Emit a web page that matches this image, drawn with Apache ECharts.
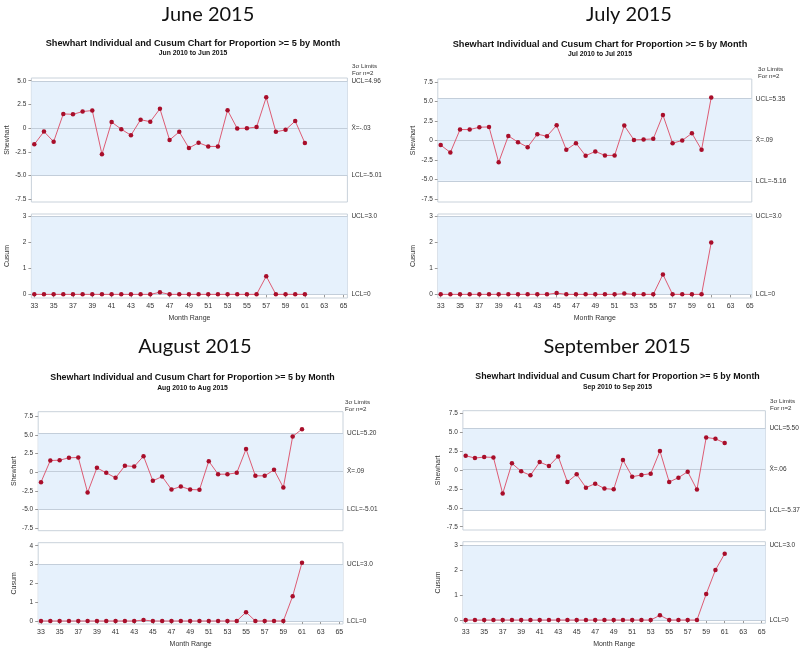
<!DOCTYPE html>
<html><head><meta charset="utf-8">
<script src="https://cdn.jsdelivr.net/npm/echarts@6/dist/echarts.min.js"></script>
<style>html,body{margin:0;padding:0;background:#fff}#c{width:800px;height:649px}</style>
</head><body><div id="c"></div><script>
// ---- data ----
const months = [33,34,35,36,37,38,39,40,41,42,43,44,45,46,47,48,49,50,51,52,53,54,55,56,57,58,59,60,61];
const monthTicks = [33,35,37,39,41,43,45,47,49,51,53,55,57,59,61,63,65];
const shewhartTicks = [-7.5,-5,-2.5,0,2.5,5,7.5];
const cusumTicks3 = [0,1,2,3];
const cusumTicks4 = [0,1,2,3,4];
const panelTitles = ['June 2015','July 2015','August 2015','September 2015'];
const chartTitle = 'Shewhart Individual and Cusum Chart for Proportion >= 5 by Month';
const subtitles = ['Jun 2010 to Jun 2015','Jul 2010 to Jul 2015','Aug 2010 to Aug 2015','Sep 2010 to Sep 2015'];

const junShewhart = [-1.71,-0.36,-1.43,1.50,1.46,1.75,1.86,-2.75,0.64,-0.11,-0.75,0.89,0.68,2.04,-1.25,-0.39,-2.10,-1.54,-1.93,-1.93,1.89,-0.04,0.00,0.11,3.25,-0.39,-0.18,0.75,-1.57];
const julShewhart = [-0.59,-1.53,1.40,1.40,1.70,1.74,-2.80,0.59,-0.21,-0.85,0.81,0.55,1.95,-1.19,-0.34,-1.95,-1.40,-1.91,-1.91,1.91,0.08,0.13,0.21,3.27,-0.34,0.00,0.93,-1.19,5.51];
const augShewhart = [-1.34,1.56,1.60,1.92,1.96,-2.72,0.58,-0.09,-0.76,0.85,0.76,2.14,-1.16,-0.58,-2.32,-1.92,-2.32,-2.36,1.47,-0.27,-0.27,-0.09,3.08,-0.49,-0.49,0.31,-2.05,4.77,5.75];
const sepShewhart = [1.89,1.58,1.71,1.67,-3.12,0.88,-0.18,-0.70,1.05,0.53,1.80,-1.58,-0.57,-2.33,-1.80,-2.46,-2.55,1.32,-0.88,-0.66,-0.48,2.50,-1.58,-1.01,-0.22,-2.59,4.30,4.13,3.56];

const junCusum = [0,0,0,0,0,0,0,0,0,0,0,0,0,0.08,0,0,0,0,0,0,0,0,0,0,0.70,0,0,0,0];
const julCusum = [0,0,0,0,0,0,0,0,0,0,0,0,0.05,0,0,0,0,0,0,0.03,0,0,0,0.77,0,0,0,0,2.00];
const augCusum = [0,0,0,0,0,0,0,0,0,0,0,0.05,0,0,0,0,0,0,0,0,0,0,0.47,0,0,0,0,1.32,3.10];
const sepCusum = [0,0,0,0,0,0,0,0,0,0,0,0,0,0,0,0,0,0,0,0,0,0.19,0,0,0,0,1.04,2.00,2.65];

const shewhartUCL = [4.96,5.35,5.20,5.50];
const shewhartMean = [-0.03,0.09,0.09,0.06];
const shewhartLCL = [-5.01,-5.16,-5.01,-5.37];
const uclLabels = ['UCL=4.96','UCL=5.35','UCL=5.20','UCL=5.50'];
const meanLabels = ['X\u0304=-.03','X\u0304=.09','X\u0304=.09','X\u0304=.06'];
const lclLabels = ['LCL=-5.01','LCL=-5.16','LCL=-5.01','LCL=-5.37'];
const cusumUCL = [3,3,3,3];
const cusumLCL = [0,0,0,0];
const cusumUclLabel = 'UCL=3.0';
const cusumLclLabel = 'LCL=0';
const limitNote = ['3\u03c3 Limits','For n=2'];

const shewhartSeries = [junShewhart, julShewhart, augShewhart, sepShewhart];
const cusumSeries = [junCusum, julCusum, augCusum, sepCusum];
const cusumTickSets = [cusumTicks3, cusumTicks3, cusumTicks4, cusumTicks3];

// ---- layout (pixels / axis extents) ----
const L = [
  {left:31.4,width:316,sTop:78,sH:124,cTop:214,cH:84,sMin:-7.79,sMax:5.29,cMin:-0.14,cMax:3.1,xMin:32.7,xMax:65.4,bigX:208,bigY:15,tX:193,tY:43,sY:53,nX:352,nY:66,tFs:9.2},
  {left:437.8,width:314,sTop:79,sH:123,cTop:214,cH:84,sMin:-7.88,sMax:7.88,cMin:-0.14,cMax:3.1,xMin:32.7,xMax:65.2,bigX:629,bigY:15,tX:600,tY:44,sY:54,nX:758,nY:69,tFs:9.2},
  {left:38.2,width:304.8,sTop:411.7,sH:119,cTop:542.7,cH:81.3,sMin:-7.82,sMax:8.08,cMin:-0.16,cMax:4.16,xMin:32.7,xMax:65.4,bigX:195,bigY:347,tX:192.5,tY:378,sY:388,nX:345,nY:402,tFs:8.9},
  {left:462.9,width:302.5,sTop:410.7,sH:119.3,cTop:541.7,cH:81.6,sMin:-7.93,sMax:7.84,cMin:-0.13,cMax:3.13,xMin:32.7,xMax:65.4,bigX:617,bigY:347,tX:617.5,tY:377,sY:387,nX:770,nY:401,tFs:8.9}
];

const TXT = '#333';
const BORDER = '#C9D2DB';
const LIMIT = '#C3CEDA';
const BAND = '#E6F1FC';
const LINE = '#DD5C74';
const DOT = '#A80E2A';
const FF = '"Liberation Sans", Arial, sans-serif';

const grid = [], xAxis = [], yAxis = [], series = [], graphic = [];
function fmtS(v){ return v === 0 ? '0' : v.toFixed(1); }
function within(arr, a, b){ return arr.filter(v => v >= a && v <= b); }

L.forEach((p, i) => {
  grid.push({left:p.left, top:p.sTop, width:p.width, height:p.sH, show:true, backgroundColor:'#fff', borderColor:BORDER, borderWidth:1});
  grid.push({left:p.left, top:p.cTop, width:p.width, height:p.cH, show:true, backgroundColor:'#fff', borderColor:BORDER, borderWidth:1});
  const gi = i*2;
  [gi, gi+1].forEach((g, k) => {
    xAxis.push({
      type:'value', gridIndex:g, min:p.xMin, max:p.xMax,
      axisLine:{show:false}, splitLine:{show:false},
      axisTick:{show:true, length:3, lineStyle:{color:'#999'}, customValues:monthTicks},
      axisLabel:{show:k===1, fontSize:7, color:TXT, fontFamily:FF, margin:5, customValues:monthTicks},
      name: k===1 ? 'Month Range' : '', nameLocation:'middle', nameGap:17,
      nameTextStyle:{fontSize:7, color:TXT, fontFamily:FF}
    });
  });
  const sT = within(shewhartTicks, p.sMin, p.sMax);
  yAxis.push({
    type:'value', gridIndex:gi, min:p.sMin, max:p.sMax,
    axisLine:{show:false}, splitLine:{show:false},
    axisTick:{show:true, length:3, lineStyle:{color:'#999'}, customValues:sT},
    axisLabel:{fontSize:6.5, color:TXT, fontFamily:FF, margin:5, customValues:sT, formatter:fmtS},
    name:'Shewhart', nameLocation:'middle', nameGap:21, nameTextStyle:{fontSize:7, color:TXT, fontFamily:FF}
  });
  const cT = cusumTickSets[i];
  yAxis.push({
    type:'value', gridIndex:gi+1, min:p.cMin, max:p.cMax,
    axisLine:{show:false}, splitLine:{show:false},
    axisTick:{show:true, length:3, lineStyle:{color:'#999'}, customValues:cT},
    axisLabel:{fontSize:6.5, color:TXT, fontFamily:FF, margin:5, customValues:cT, formatter:v=>String(v)},
    name:'Cusum', nameLocation:'middle', nameGap:21, nameTextStyle:{fontSize:7, color:TXT, fontFamily:FF}
  });
  const lbl = {position:'end', distance:4, fontSize:6.5, color:TXT, fontFamily:FF};
  series.push({
    type:'line', xAxisIndex:gi, yAxisIndex:gi,
    data: months.map((m,k)=>[m, shewhartSeries[i][k]]),
    symbol:'circle', symbolSize:4.5, lineStyle:{color:LINE, width:1}, itemStyle:{color:DOT},
    z:5, animation:false,
    markArea:{silent:true, itemStyle:{color:BAND}, data:[[{yAxis:shewhartLCL[i]},{yAxis:shewhartUCL[i]}]]},
    markLine:{silent:true, symbol:'none', animation:false, lineStyle:{color:LIMIT, width:1, type:'solid'},
      data:[
        {yAxis:shewhartUCL[i], label:Object.assign({formatter:uclLabels[i]}, lbl)},
        {yAxis:shewhartMean[i], label:Object.assign({formatter:meanLabels[i]}, lbl)},
        {yAxis:shewhartLCL[i], label:Object.assign({formatter:lclLabels[i]}, lbl)}
      ]}
  });
  series.push({
    type:'line', xAxisIndex:gi+1, yAxisIndex:gi+1,
    data: months.map((m,k)=>[m, cusumSeries[i][k]]),
    symbol:'circle', symbolSize:4.5, lineStyle:{color:LINE, width:1}, itemStyle:{color:DOT},
    z:5, animation:false,
    markArea:{silent:true, itemStyle:{color:BAND}, data:[[{yAxis:cusumLCL[i]},{yAxis:cusumUCL[i]}]]},
    markLine:{silent:true, symbol:'none', animation:false, lineStyle:{color:LIMIT, width:1, type:'solid'},
      data:[
        {yAxis:cusumUCL[i], label:Object.assign({formatter:cusumUclLabel}, lbl)},
        {yAxis:cusumLCL[i], label:Object.assign({formatter:cusumLclLabel}, lbl)}
      ]}
  });
  graphic.push({type:'text', x:p.bigX, y:p.bigY, style:{text:panelTitles[i], fontSize:20, fontFamily:'Lato, "Open Sans", sans-serif', fill:'#111', align:'center', verticalAlign:'middle'}});
  graphic.push({type:'text', x:p.tX, y:p.tY, style:{text:chartTitle, fontSize:p.tFs, fontWeight:'bold', fontFamily:FF, fill:'#111', align:'center', verticalAlign:'middle'}});
  graphic.push({type:'text', x:p.tX, y:p.sY, style:{text:subtitles[i], fontSize:6.8, fontWeight:'bold', fontFamily:FF, fill:'#111', align:'center', verticalAlign:'middle'}});
  graphic.push({type:'text', x:p.nX, y:p.nY, style:{text:limitNote[0], fontSize:6.2, fontFamily:FF, fill:TXT, align:'left', verticalAlign:'middle'}});
  graphic.push({type:'text', x:p.nX, y:p.nY+7, style:{text:limitNote[1], fontSize:6.2, fontFamily:FF, fill:TXT, align:'left', verticalAlign:'middle'}});
});

const chart = echarts.init(document.getElementById('c'));
chart.setOption({animation:false, backgroundColor:'#fff', grid, xAxis, yAxis, series, graphic});
</script></body></html>
